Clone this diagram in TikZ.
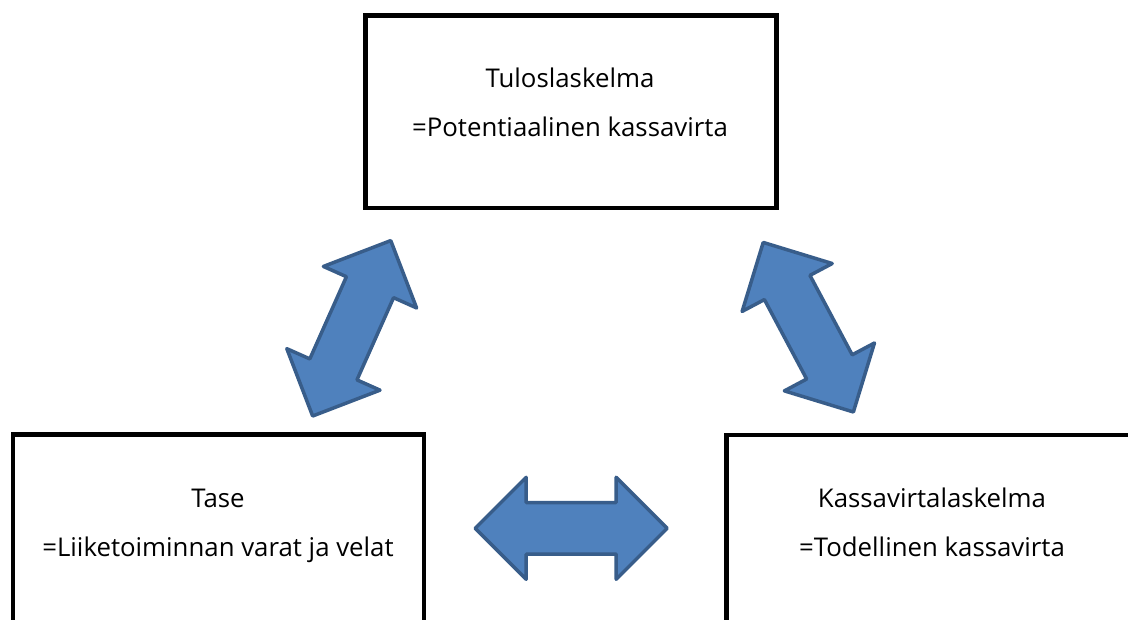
\documentclass[tikz,border=0pt]{standalone}
\usepackage{fontspec}
\setmainfont{Open Sans}
\usetikzlibrary{positioning}

\definecolor{arrowfill}{HTML}{4F81BD}
\definecolor{arrowline}{HTML}{385D8A}

\begin{document}
\begin{tikzpicture}[x=1pt, y=-1pt,
        statement/.style={draw=black, line width=4.5pt, minimum width=411pt,
            minimum height=192.5pt, inner sep=0pt},
        caption/.style={anchor=base, inner sep=0pt, font=\fontsize{25.8}{30}\selectfont},
        flow/.style={fill=arrowfill, draw=arrowline, line width=3.5pt, line join=round},
        both ways/.pic={
            \filldraw[flow] (-96,0) -- (-45,51) -- (-45,25.8) -- (45,25.8) -- (45,51)
                -- (96,0) -- (45,-51) -- (45,-25.8) -- (-45,-25.8) -- (-45,-51) -- cycle;
        }]
            % Limits of the page
            \useasboundingbox (0,0) rectangle (1128,619);

            % Draw the three statements
            \node[statement] (tulos) at (571,111.75) {};
            \node[statement] (tase) at (218.5,530.75) {};
            \node[statement] (kassa) at (932,531) {};

            % Draw the links between them
            \pic[rotate=66] (linkTulosTase) at (351.7,328.3) {both ways};
            \pic[rotate=-62] (linkTulosKassa) at (808.3,327.2) {both ways};
            \pic (linkTaseKassa) at (571.2,528.3) {both ways};

            % Texts
            \node[caption] (tulosName) at (570,87.7) {Tuloslaskelma};
            \node[caption] (tulosNote) at (570,136.7) {=Potentiaalinen kassavirta};
            \node[caption] (taseName) at (218,507.3) {Tase};
            \node[caption] (taseNote) at (218,556.7) {=Liiketoiminnan varat ja velat};
            \node[caption] (kassaName) at (932,507.3) {Kassavirtalaskelma};
            \node[caption] (kassaNote) at (932,556.7) {=Todellinen kassavirta};
        \end{tikzpicture}
\end{document}
